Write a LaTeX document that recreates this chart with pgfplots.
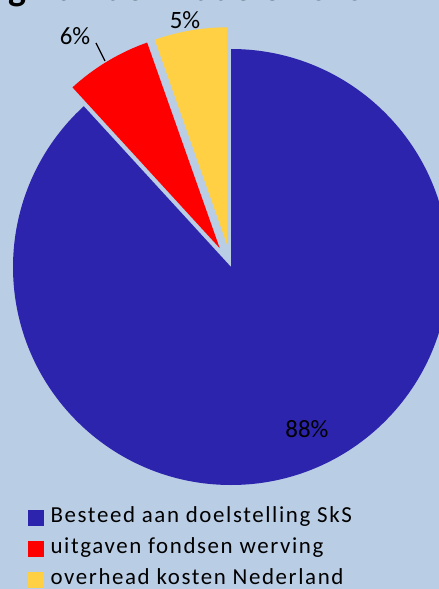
\documentclass[border=0pt]{standalone}
\usepackage{pgfplots}
\pgfplotsset{compat=1.18}
\usepackage{pgfplotstable}
\usepackage{fontspec}
\setmainfont{Carlito}
\newfontfamily\legendfont[LetterSpace=7]{Carlito}

\definecolor{sksblue}{HTML}{2C24AC}
\definecolor{sksred}{HTML}{FF0000}
\definecolor{sksyellow}{HTML}{FFCF44}
\definecolor{bg}{HTML}{B9CDE5}

% one table per slice: pie centre (px) and share in %
\pgfplotstableread{
x y value
231 267 88.2
}\besteed
\pgfplotstableread{
x y value
231 267 6.4
}\werving
\pgfplotstableread{
x y value
231 267 5.4
}\overhead

% pie slice as plot mark, clockwise from 12 o'clock, one after the other
\newcommand\cumangle{90}
\newcommand\wex{0}
\newcommand\val{0}
\pgfdeclareplotmark{wedge}{%
  \pgfscope
  \pgfmathsetmacro\wda{-3.6*\val}%
  \pgfmathsetmacro\wend{\cumangle+\wda}%
  \pgfmathsetmacro\wmid{\cumangle+\wda/2}%
  \pgftransformshift{\pgfpointpolar{\wmid}{\wex bp}}%
  \pgfpathmoveto{\pgfpointorigin}%
  \pgfpathlineto{\pgfpointpolar{\cumangle}{218bp}}%
  \pgfpatharc{\cumangle}{\wend}{218bp}%
  \pgfpathclose
  \pgfusepathqfill
  \xdef\cumangle{\wend}%
  \endpgfscope
}

\pgfplotsset{
  slice/.style 2 args={scatter, only marks, mark=wedge, color=#1,
    point meta=explicit, point meta min=0, point meta max=100,
    scatter/@pre marker code/.code={\pgfmathfloattofixed{\pgfplotspointmeta}\let\val\pgfmathresult},
    scatter/@post marker code/.code={},
    /utils/exec={\def\wex{#2}},
    legend image code/.code={\fill[#1] (0bp,-7.5bp) rectangle (15bp,7.5bp);}},
}

\begin{document}
\begin{tikzpicture}
\useasboundingbox (0,0) rectangle (439bp,589bp);
\clip (0,0) rectangle (439bp,589bp);
\fill[bg] (0,0) rectangle (439bp,589bp);
\begin{axis}[
  at={(0,0)}, anchor=south west,
  scale only axis, width=439bp, height=589bp,
  xmin=0, xmax=439, ymin=0, ymax=589, y dir=reverse,
  hide axis, clip=true,
  legend style={at={(axis cs:28,506.5)}, anchor=north west,
    draw=none, fill=none, inner sep=0pt,
    font=\legendfont\fontsize{23}{26}\selectfont,
    row sep=10bp, column sep=7bp,
    nodes={inner sep=0pt, text height=16bp, text depth=5bp}},
  legend cell align=left,
]
\addplot[slice={sksblue}{0}] table[meta=value] {\besteed};
\addlegendentry{Besteed aan doelstelling SkS}
\addplot[slice={sksred}{22}] table[meta=value] {\werving};
\addlegendentry{uitgaven fondsen werving}
\addplot[slice={sksyellow}{22}] table[meta=value] {\overhead};
\addlegendentry{overhead kosten Nederland}

\coordinate (l88) at (axis cs:307,429);
\coordinate (l6) at (axis cs:75,36);
\coordinate (l5) at (axis cs:185,20);
\coordinate (lead1) at (axis cs:96,43);
\coordinate (lead2) at (axis cs:105,61);
\coordinate (t1) at (axis cs:27,0.5);
\coordinate (t2) at (axis cs:40,0.5);
\end{axis}

% data labels, on top of the slices
\node[inner sep=0pt, font=\fontsize{25}{30}\selectfont] at (l88) {88\%};
\node[inner sep=0pt, font=\fontsize{25}{30}\selectfont] at (l6) {6\%};
\node[inner sep=0pt, font=\fontsize{25}{30}\selectfont] at (l5) {5\%};
\draw[line width=1.3bp] (lead1) -- (lead2);

% title, mostly cut off at the top
\node[anchor=base east, inner sep=0pt, font=\bfseries\fontsize{38}{44}\selectfont] at (t1) {Besteding};
\node[anchor=base west, inner sep=0pt, font=\bfseries\fontsize{38}{44}\selectfont] at (t2) {van de middelen SkS};
\end{tikzpicture}
\end{document}
